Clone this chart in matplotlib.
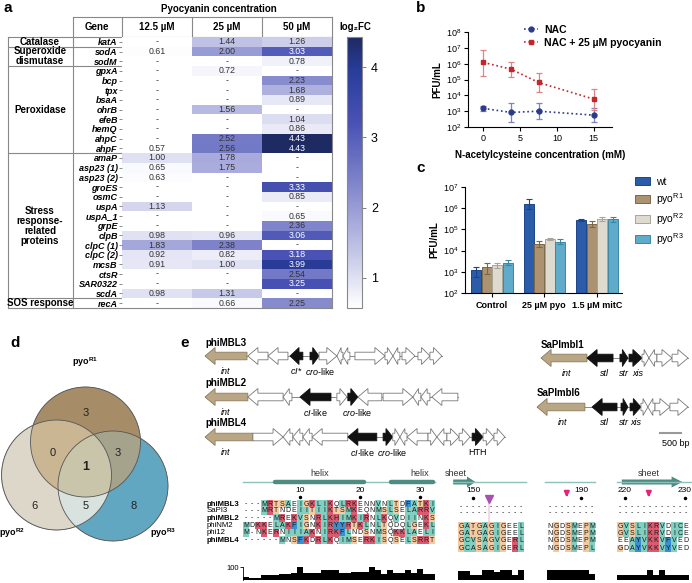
import numpy as np
import matplotlib
matplotlib.use('Agg')
import matplotlib.pyplot as plt
from matplotlib.colors import LinearSegmentedColormap, to_rgba
from matplotlib.patches import Polygon, Rectangle, Circle, Patch
from matplotlib.lines import Line2D

plt.rcParams['font.family'] = ['Liberation Sans', 'DejaVu Sans']
plt.rcParams['mathtext.fontset'] = 'custom'
plt.rcParams['mathtext.rm'] = 'Liberation Sans'
plt.rcParams['mathtext.it'] = 'Liberation Sans:italic'
plt.rcParams['mathtext.bf'] = 'Liberation Sans:bold'

nan = np.nan

#########################################################
# Data
#########################################################
# panel a
genes = ['katA', 'sodA', 'sodM', 'gpxA', 'bcp', 'tpx', 'bsaA', 'ohrB', 'efeB', 'hemQ', 'ahpC', 'ahpF',
         'amaP', 'asp23 (1)', 'asp23 (2)', 'groES', 'osmC', 'uspA', 'uspA_1', 'grpE', 'clpB', 'clpC (1)',
         'clpC (2)', 'mcsB', 'ctsR', 'SAR0322', 'scdA', 'recA']
conc_labels = ['12.5 µM', '25 µM', '50 µM']
fc_12 = [nan, 0.61, nan, nan, nan, nan, nan, nan, nan, nan, nan, 0.57,
         1.00, 0.65, 0.63, nan, nan, 1.13, nan, nan, 0.98, 1.83, 0.92, 0.91, nan, nan, 0.98, nan]
fc_25 = [1.44, 2.00, nan, 0.72, nan, nan, nan, 1.56, nan, nan, 2.52, 2.56,
         1.78, 1.75, nan, nan, nan, nan, nan, nan, 0.96, 2.38, 0.82, 1.00, nan, nan, 1.31, 0.66]
fc_50 = [1.26, 3.03, 0.78, nan, 2.23, 1.68, 0.89, nan, 1.04, 0.86, 4.43, 4.43,
         nan, nan, nan, 3.33, 0.85, nan, 0.65, 2.36, 3.06, nan, 3.18, 3.99, 2.54, 3.25, nan, 2.25]
categories = ['Catalase', 'Superoxide\ndismutase', 'Peroxidase', 'Stress\nresponse-\nrelated\nproteins', 'SOS response']
category_sizes = [1, 2, 9, 15, 1]

# panel b
nac_conc = [0, 3.75, 7.5, 15]
nac_pfu = [1.5e3, 8.3e2, 1.0e3, 5.6e2]
nac_lo = [1.1e3, 2.0e2, 3.0e2, 2.0e2]
nac_hi = [2.1e3, 3.4e3, 3.4e3, 1.7e3]
pyo_pfu = [1.2e6, 4.5e5, 6.5e4, 5.8e3]
pyo_lo = [1.6e5, 1.5e5, 1.7e4, 1.2e3]
pyo_hi = [7.7e6, 1.35e6, 2.4e5, 2.7e4]

# panel c
conditions = ['Control', '25 µM pyo', '1.5 µM mitC']
strain_labels = ['wt', r'pyo$^{\rm R1}$', r'pyo$^{\rm R2}$', r'pyo$^{\rm R3}$']
pfu_wt = [1.1e3, 1.6e6, 2.75e5]
pfu_r1 = [1.55e3, 2.0e4, 1.75e5]
pfu_r2 = [2.0e3, 3.6e4, 3.0e5]
pfu_r3 = [2.6e3, 2.6e4, 3.0e5]
lo_wt = [5.7e2, 9.0e5, 2.4e5]
lo_r1 = [8.0e2, 1.5e4, 1.3e5]
lo_r2 = [1.5e3, 3.2e4, 2.4e5]
lo_r3 = [2.1e3, 2.0e4, 2.3e5]
hi_wt = [1.75e3, 2.7e6, 3.2e5]
hi_r1 = [2.5e3, 2.8e4, 2.5e5]
hi_r2 = [2.7e3, 4.0e4, 3.9e5]
hi_r3 = [3.5e3, 3.4e4, 4.0e5]

# panel d
venn_regions = ['R1', 'R1R2', 'R1R3', 'all', 'R2', 'R2R3', 'R3']
venn_counts = [3, 0, 3, 1, 6, 5, 8]

# panel e, gene maps (bp, strand, kind)
phiMBL3_genes = [(0, 1000, -1, 'int'), (1020, 1500, -1, 'w'), (1500, 1975, -1, 'w'), (2025, 2330, -1, 'b'),
                 (2500, 2715, 1, 'b'), (2715, 3140, 1, 'w'), (3140, 3285, -1, 'w'), (3285, 3450, -1, 'w'),
                 (3570, 4285, 1, 'w'), (4285, 4475, 1, 'w'), (4475, 4640, -1, 'w'), (4690, 5000, 1, 'w'),
                 (5070, 5355, 1, 'w'), (5355, 5640, 1, 'w')]
phiMBL2_genes = [(0, 1020, -1, 'int'), (1020, 1860, -1, 'w'), (1860, 2070, -1, 'w'), (2260, 3000, -1, 'b'),
                 (3140, 3380, 1, 'w'), (3400, 3640, 1, 'b'), (3640, 4210, -1, 'w'), (4240, 4950, 1, 'w'),
                 (4950, 5140, -1, 'w'), (5140, 5355, -1, 'w'), (5400, 6020, -1, 'w')]
phiMBL4_genes = [(0, 1140, -1, 'int'), (1140, 1860, 1, 'w'), (1860, 2090, -1, 'w'), (2090, 2330, -1, 'w'),
                 (2330, 2550, -1, 'w'), (2550, 3400, -1, 'w'), (3400, 4090, -1, 'b'), (4240, 4470, 1, 'b'),
                 (4470, 4640, 1, 'w'), (4640, 4810, -1, 'w'), (4810, 5310, -1, 'w'), (5310, 5520, 1, 'w'),
                 (5520, 5760, -1, 'w'), (5760, 6050, 1, 'w'), (6050, 6310, 1, 'w'), (6360, 6620, 1, 'b'),
                 (6620, 6880, 1, 'w'), (6880, 7140, 1, 'w')]
SaPImbl1_genes = [(0, 1095, -1, 'int'), (1095, 1715, -1, 'b'), (1880, 2070, 1, 'b'), (2095, 2405, 1, 'b'),
                  (2405, 2570, 1, 'w'), (2570, 2760, -1, 'w'), (2760, 3120, 1, 'w'), (3120, 3500, 1, 'w')]
SaPImbl6_genes = [(0, 1140, -1, 'int'), (1310, 1905, -1, 'b'), (2000, 2165, 1, 'b'), (2215, 2475, 1, 'b'),
                  (2475, 2640, 1, 'w'), (2640, 2810, -1, 'w'), (2810, 3165, 1, 'w'), (3165, 3595, 1, 'w')]
phiMBL3_labels = [(500, 'int'), (2180, r'$\it{cI}$*'), (2750, r'$\it{cro}$-like')]
phiMBL2_labels = [(500, 'int'), (2630, r'$\it{cI}$-like'), (3620, r'$\it{cro}$-like')]
phiMBL4_labels = [(500, 'int'), (3740, r'$\it{cI}$-like'), (4450, r'$\it{cro}$-like'), (6490, 'HTH')]
SaPImbl1_labels = [(600, 'int'), (1500, 'stl'), (1975, 'str'), (2300, 'xis')]
SaPImbl6_labels = [(600, 'int'), (1610, 'stl'), (2080, 'str'), (2345, 'xis')]

# panel e, alignment
seq_names = ['phiMBL3', 'SaPI3', 'phiMBL2', 'phiNM2', 'phi12', 'phiMBL4']
name_bold = [True, False, True, False, False, True]
block1 = ['---MRTSAEIGKLIKQLRKENNVNLTDFATKI',
          '---MRTNDEIITIIKTSMKEQNMSLSELARRV',
          '-----MREKVSNRLKHIMKIRNLKQVDIINKS',
          'MDKKELAKFIGNKIRYYRTKLNLTQDQLGEKL',
          'M-NKERNIIIAKNIRKFLNDSNMSQKKLAELI',
          '------MNSFKDRLKQIMSERKISQSELSRRT']
block2 = ['-----------', '-----------', 'GATGAGIGEEL', 'GATGAGIGEEL', 'GCVSAGVGERL', 'GCASAGIGERL']
block3 = ['--------', '--------', 'NGDSMEPM', 'NGDSMEPM', 'NGDSMEPM', 'NGDSMEPL']
block4 = ['------------', '------------', 'GVSLIKRVDICE', 'GVSLIKRVDICE', 'EEAYVKKVFVED', 'GDAYVKKVYVED']
cons1 = [20, 15, 15, 40, 40, 40, 45, 45, 55, 100, 55, 55, 55, 80, 80, 75, 55, 55, 60, 60,
         60, 100, 75, 45, 75, 55, 55, 80, 55, 85, 45, 45]
cons2 = [70, 70, 38, 38, 80, 75, 62, 80, 80, 38, 80]
cons3 = [80, 80, 80, 80, 80, 80, 80, 50]
cons4 = [35, 35, 35, 35, 35, 80, 35, 80, 35, 35, 35, 35]

#########################################################
# Figure helpers
#########################################################
W, H = 692, 583
fig = plt.figure(figsize=(W / 100, H / 100), dpi=100)


def px_axes(x0, y0, x1, y1):
    return fig.add_axes([x0 / W, 1 - y1 / H, (x1 - x0) / W, (y1 - y0) / H])


ov = fig.add_axes([0, 0, 1, 1])
ov.set_xlim(0, W)
ov.set_ylim(H, 0)
ov.axis('off')

for lab, (x, y) in zip('abcde', [(4, 8), (416, 8), (416, 168), (10, 343), (180, 343)]):
    ov.text(x, y, lab, fontsize=11, fontweight='bold', va='center', ha='left')

#########################################################
# a: heatmap table
#########################################################
cmap = LinearSegmentedColormap.from_list('fc', [(0, '#ffffff'), (0.2, '#c5c7e8'), (0.45, '#8287cc'),
                                               (0.68, '#4a53b5'), (0.88, '#283c9a'), (1, '#1e2a62')])
fc = np.array([fc_12, fc_25, fc_50]).T
n = len(genes)
top, bot = 37, 308
rowh = (bot - top) / n

ax_a = px_axes(122, top, 332, bot)
mesh = ax_a.pcolormesh(np.ma.masked_invalid(fc), cmap=cmap, vmin=0.57, vmax=4.43)
ax_a.set_xlim(0, 3)
ax_a.set_ylim(n, 0)
for i in range(n):
    for j in range(3):
        v = fc[i, j]
        txt = '-' if np.isnan(v) else '%.2f' % v
        col = 'white' if (not np.isnan(v) and v >= 3) else '#333333'
        ax_a.text(j + 0.5, i + 0.5, txt, ha='center', va='center', fontsize=6.3, color=col)
ax_a.set_xticks([])
ax_a.set_yticks(np.arange(n) + 0.5)
ax_a.set_yticklabels(genes, fontsize=6.5, fontweight='bold', style='italic')
ax_a.tick_params(axis='y', length=2, width=0.6, color='#777777', pad=1)
for s in ['left', 'top']:
    ax_a.spines[s].set_visible(False)
for s in ['right', 'bottom']:
    ax_a.spines[s].set_color('#888888')
    ax_a.spines[s].set_linewidth(0.8)

lc = '#888888'
ov.plot([73, 332], [17, 17], color=lc, lw=0.8)
ov.plot([8, 332], [top, top], color=lc, lw=0.8)
for x in [122, 192, 262]:
    ov.plot([x, x], [17, top], color=lc, lw=0.8)
ov.plot([73, 73], [17, bot], color=lc, lw=0.8)
ov.plot([8, 8], [top, bot], color=lc, lw=0.8)
ov.plot([332, 332], [17, top], color=lc, lw=0.8)
ov.plot([8, 122], [bot, bot], color=lc, lw=0.8)
start = 0
for cat, size in zip(categories, category_sizes):
    yc = top + (start + size / 2) * rowh
    ov.text(40, yc, cat, ha='center', va='center', fontsize=7, fontweight='bold', linespacing=1.0)
    start += size
    if start < n:
        ov.plot([8, 122], [top + start * rowh] * 2, color=lc, lw=0.8)

ov.text(97, 27, 'Gene', ha='center', va='center', fontsize=7, fontweight='bold')
for k, lab in enumerate(conc_labels):
    ov.text(157 + 70 * k, 27, lab, ha='center', va='center', fontsize=7, fontweight='bold')
ov.text(219, 9, 'Pyocyanin concentration', ha='center', va='center', fontsize=7, fontweight='bold')

cax = px_axes(347, top, 362, bot)
cb = fig.colorbar(mesh, cax=cax)
cb.set_ticks([1, 2, 3, 4])
cb.ax.tick_params(labelsize=9, length=3, width=0.6, color='#666666')
cb.outline.set_edgecolor('#888888')
cb.outline.set_linewidth(0.8)
ov.text(355, 27, 'log₂FC', ha='center', va='center', fontsize=7, fontweight='bold')

#########################################################
# b: NAC line plot
#########################################################
ax_b = px_axes(468, 32, 612, 127)
ax_b.set_yscale('log')
nac_y = np.array(nac_pfu)
pyo_y = np.array(pyo_pfu)
ax_b.errorbar(nac_conc, nac_y, yerr=[nac_y - np.array(nac_lo), np.array(nac_hi) - nac_y],
              fmt='o', ls=':', lw=1.2, ms=3.5, color='#2b3b8c', ecolor='#7a86bd',
              elinewidth=0.9, capsize=2.5, capthick=0.9)
ax_b.errorbar(nac_conc, pyo_y, yerr=[pyo_y - np.array(pyo_lo), np.array(pyo_hi) - pyo_y],
              fmt='s', ls=':', lw=1.2, ms=3.5, color='#c1272d', ecolor='#e08585',
              elinewidth=0.9, capsize=2.5, capthick=0.9)
ax_b.set_ylim(1e2, 1e8)
ax_b.set_xlim(-2.1, 17.5)
ax_b.set_xticks([0, 5, 10, 15])
ax_b.set_yticks([10.0 ** k for k in range(2, 9)])
ax_b.minorticks_off()
ax_b.tick_params(labelsize=6.5, length=3, width=0.8, pad=2)
for s in ['top', 'right']:
    ax_b.spines[s].set_visible(False)
ax_b.set_ylabel('PFU/mL', fontsize=7, fontweight='bold', labelpad=2)
ax_b.set_xlabel('N-acetylcysteine concentration (mM)', fontsize=7, fontweight='bold', labelpad=5)
h_b = [Line2D([], [], color='#2b3b8c', ls=':', marker='o', ms=3.5, lw=1.2),
       Line2D([], [], color='#c1272d', ls=':', marker='s', ms=3.5, lw=1.2)]
ax_b.legend(h_b, ['NAC', 'NAC + 25 µM pyocyanin'], loc='upper left', bbox_to_anchor=(524 / W, 1 - 25 / H),
            bbox_transform=fig.transFigure, frameon=False, prop={'weight': 'bold', 'size': 7.5},
            handlelength=1.3, handletextpad=0.6, labelspacing=0.25, borderpad=0, borderaxespad=0)

#########################################################
# c: bar chart
#########################################################
ax_c = px_axes(465, 187, 622, 293)
ax_c.set_yscale('log')
xs = np.arange(len(conditions))
bar_sets = [(pfu_wt, lo_wt, hi_wt, '#2a5caa', '#1b4587'),
            (pfu_r1, lo_r1, hi_r1, '#ab9270', '#7d6748'),
            (pfu_r2, lo_r2, hi_r2, '#dedad0', '#a9a497'),
            (pfu_r3, lo_r3, hi_r3, '#5fabc9', '#3a86a3')]
for k, (vals, lo, hi, fcol, ecol) in enumerate(bar_sets):
    off = (k - 1.5) * 0.2
    vals = np.array(vals)
    ax_c.bar(xs + off, vals, width=0.19, bottom=1e2, color=fcol, edgecolor=ecol, linewidth=0.7,
             label=strain_labels[k])
    ax_c.errorbar(xs + off, vals, yerr=[vals - np.array(lo), np.array(hi) - vals], fmt='none',
                  ecolor=ecol, elinewidth=0.8, capsize=2, capthick=0.8)
ax_c.set_ylim(1e2, 1e7)
ax_c.set_xlim(-0.51, 2.48)
ax_c.set_yticks([10.0 ** k for k in range(2, 8)])
ax_c.minorticks_off()
ax_c.set_xticks(xs)
ax_c.set_xticklabels(conditions, fontsize=6.5, fontweight='bold')
ax_c.tick_params(axis='y', labelsize=6.5, length=3, width=0.8, pad=2)
ax_c.tick_params(axis='x', length=3, width=0.8, pad=3)
for s in ['top', 'right']:
    ax_c.spines[s].set_visible(False)
ax_c.set_ylabel('PFU/mL', fontsize=7, fontweight='bold', labelpad=2)
h_c = [Patch(facecolor=b[3], edgecolor=b[4], linewidth=0.7) for b in bar_sets]
ax_c.legend(h_c, strain_labels, loc='upper left', bbox_to_anchor=(635 / W, 1 - 177 / H),
            bbox_transform=fig.transFigure, frameon=False, fontsize=7.5, handlelength=1.4,
            handleheight=0.8, handletextpad=0.6, labelspacing=0.4, borderpad=0, borderaxespad=0)

#########################################################
# d: Venn diagram
#########################################################
ax_d = px_axes(0, 350, 180, 548)
ax_d.set_xlim(0, 180)
ax_d.set_ylim(548, 350)
ax_d.axis('off')
centers = [(85.5, 442), (56.5, 475), (113, 486)]
rad = 55
gx, gy = np.meshgrid(np.linspace(0, 180, 720), np.linspace(350, 548, 792))
inside = [((gx - cx) ** 2 + (gy - cy) ** 2) <= rad ** 2 for cx, cy in centers]
code = inside[0] * 1 + inside[1] * 2 + inside[2] * 4
code_of = {'R1': 1, 'R1R2': 3, 'R1R3': 5, 'all': 7, 'R2': 2, 'R2R3': 6, 'R3': 4}
region_col = {'R1': '#a88c69', 'R1R2': '#cab692', 'R1R3': '#a5a38b', 'all': '#c9c6aa',
              'R2': '#ddd8c9', 'R2R3': '#d9e2df', 'R3': '#63a7c1'}
img = np.zeros(code.shape + (4,))
for reg in venn_regions:
    img[code == code_of[reg]] = to_rgba(region_col[reg])
ax_d.imshow(img, extent=(0, 180, 548, 350), origin='upper', aspect='auto', interpolation='bilinear')
for cx, cy in centers:
    ax_d.add_patch(Circle((cx, cy), rad, fill=False, edgecolor='#555555', lw=0.6))
text_pos = {'R1': (86, 413), 'R1R2': (53, 453), 'R1R3': (118, 453), 'all': (86, 467),
            'R2': (35, 506), 'R2R3': (86, 506), 'R3': (134, 506)}
for reg, cnt in zip(venn_regions, venn_counts):
    x, y = text_pos[reg]
    ax_d.text(x, y, str(cnt), ha='center', va='center', fontsize=9 if reg == 'all' else 8,
              fontweight='bold' if reg == 'all' else 'normal', color='#222222')
ov.text(85, 362, r'$\mathbf{pyo^{R1}}$', ha='center', va='center', fontsize=6.5)
ov.text(12, 533, r'$\mathbf{pyo^{R2}}$', ha='center', va='center', fontsize=6.5)
ov.text(163, 533, r'$\mathbf{pyo^{R3}}$', ha='center', va='center', fontsize=6.5)

#########################################################
# e: gene maps
#########################################################
BP_PER_PX = 500 / 21.0
kind_style = {'int': ('#b9a685', '#8c7a5c'), 'w': ('white', '#777777'), 'b': ('#111111', '#111111')}


def gene_track(name, gene_list, labels, x0, x1, origin, yc):
    ax = px_axes(x0, yc - 10, x1, yc + 10)
    ax.set_xlim((x0 - origin) * BP_PER_PX, (x1 - origin) * BP_PER_PX)
    ax.set_ylim(-1, 1)
    ax.axis('off')
    ax.plot([gene_list[0][0], gene_list[-1][1]], [0, 0], color='#888888', lw=0.7, zorder=1)
    for s, e, strand, kind in gene_list:
        ln = e - s
        hl = min(240, 0.7 * ln)
        bh, hh = 0.38, 0.85
        if strand > 0:
            pts = [(s, bh), (e - hl, bh), (e - hl, hh), (e, 0), (e - hl, -hh), (e - hl, -bh), (s, -bh)]
        else:
            pts = [(e, bh), (s + hl, bh), (s + hl, hh), (s, 0), (s + hl, -hh), (s + hl, -bh), (e, -bh)]
        fcol, ecol = kind_style[kind]
        ax.add_patch(Polygon(pts, closed=True, facecolor=fcol, edgecolor=ecol, lw=0.6, zorder=2))
    for xpos, txt in labels:
        ax.text(xpos, -1.55, txt, ha='center', va='center', fontsize=6.5,
                style='italic' if txt in ['int', 'stl', 'str', 'xis'] else 'normal', clip_on=False)
    ax.text(0, 1.35, name, ha='left', va='center', fontsize=7, fontweight='bold', clip_on=False)
    return ax


gene_track('phiMBL3', phiMBL3_genes, phiMBL3_labels, 200, 530, 205, 356)
gene_track('phiMBL2', phiMBL2_genes, phiMBL2_labels, 200, 530, 205, 397)
gene_track('phiMBL4', phiMBL4_genes, phiMBL4_labels, 200, 530, 205, 437)
gene_track('SaPImbl1', SaPImbl1_genes, SaPImbl1_labels, 530, 692, 541, 358)
ax_s6 = gene_track('SaPImbl6', SaPImbl6_genes, SaPImbl6_labels, 530, 692, 537, 407)
ax_s6.plot([2930, 3430], [-2.6, -2.6], color='#999999', lw=1.5, clip_on=False)
ax_s6.text(3310, -3.7, '500 bp', ha='center', va='center', fontsize=6.5, clip_on=False)

#########################################################
# e: alignment
#########################################################
def res_color(ch):
    if ch in 'KRH':
        return '#da5b70'
    if ch in 'AILMVC':
        return '#80cfc0'
    if ch in 'FYW':
        return '#3a8fd0'
    if ch in 'GPST':
        return '#f6caa0'
    return None


struct_dark = '#4d8c82'
struct_light = '#8cc0b8'


def align_block(seqs, rows_y, x0, ytop=468, ybot=556):
    ncol = len(seqs[-1])
    ax = px_axes(x0, ytop, x0 + 6 * ncol, ybot)
    ax.set_xlim(-0.5, ncol - 0.5)
    ax.set_ylim(ybot, ytop)
    ax.axis('off')
    for seq, yr in zip(seqs, rows_y):
        for c, ch in enumerate(seq):
            col = res_color(ch)
            if col:
                ax.add_patch(Rectangle((c - 0.5, yr - 3.6), 1, 7.2, facecolor=col, edgecolor='none'))
            ax.text(c, yr, ch, ha='center', va='center', fontsize=5, color='#1a1a1a')
    return ax


def cons_block(vals, x0, with_axis=False):
    ax = px_axes(x0, 567, x0 + 6 * len(vals), 580)
    ax.bar(np.arange(len(vals)), vals, width=1.0, color='black')
    ax.set_xlim(-0.5, len(vals) - 0.5)
    ax.set_ylim(0, 100)
    for s in ['top', 'right', 'bottom']:
        ax.spines[s].set_visible(False)
    ax.set_xticks([])
    if with_axis:
        ax.set_yticks([100])
        ax.tick_params(axis='y', labelsize=5.5, length=2, width=0.6, pad=1)
        ax.spines['left'].set_linewidth(0.6)
    else:
        ax.set_yticks([])
        ax.spines['left'].set_visible(False)
    return ax


rows1 = [504, 511, 518, 525.5, 533, 540]
rows2 = [507, 513, 526, 533.5, 541, 548.5]

a1 = align_block(block1, rows1, 243)
a1.plot([-0.5, 31.5], [482, 482], color=struct_light, lw=1.0, clip_on=False)
a1.plot([4.8, 19.6], [482, 482], color=struct_dark, lw=3.2, solid_capstyle='round', clip_on=False)
a1.plot([24.2, 31.2], [482, 482], color=struct_dark, lw=3.2, solid_capstyle='round', clip_on=False)
a1.text(12.3, 473, 'helix', ha='center', va='center', fontsize=6.5, color='#333333')
a1.text(29, 473, 'helix', ha='center', va='center', fontsize=6.5, color='#333333')
for c, lab in [(9, '10'), (19, '20'), (29, '30')]:
    a1.text(c, 490, lab, ha='center', va='center', fontsize=6)
    a1.plot([c], [497], 'o', color='black', ms=1.5)
for k, (nm, b) in enumerate(zip(seq_names, name_bold)):
    a1.text(-6.5, rows1[k], nm, ha='left', va='center', fontsize=5.6,
            fontweight='bold' if b else 'normal', clip_on=False)

a2 = align_block(block2, rows2, 458)
a2.plot([-1.3, 10.8], [482, 482], color=struct_light, lw=1.0, clip_on=False)
a2.add_patch(Polygon([(-1.3, 479.5), (1.0, 479.5), (1.0, 476.5), (2.4, 482), (1.0, 487.5), (1.0, 484.5),
                      (-1.3, 484.5)], closed=True, facecolor=struct_dark, edgecolor='none', clip_on=False))
a2.text(-0.8, 473, 'sheet', ha='center', va='center', fontsize=6.5, color='#333333')
a2.text(2, 490, '150', ha='center', va='center', fontsize=6)
a2.plot([2], [498], 'o', color='black', ms=1.5)
a2.add_patch(Rectangle((4.45, 500), 0.45, 31, facecolor='#f3c6e0', edgecolor='none', alpha=0.7, zorder=0))
a2.plot([4.7], [498.5], marker='v', color='#a94fb0', ms=5.5)

a3 = align_block(block3, rows2, 547)
a3.plot([-0.9, 7.5], [482, 482], color=struct_light, lw=1.0, clip_on=False)
a3.text(5.2, 490, '190', ha='center', va='center', fontsize=6)
a3.plot([5.2], [498], 'o', color='black', ms=1.5)
a3.annotate('', xy=(2.8, 500), xytext=(2.8, 491),
            arrowprops=dict(arrowstyle='-|>', color='#e8217a', lw=1.6, mutation_scale=7))

a4 = align_block(block4, rows2, 617)
a4.plot([-0.5, 11.8], [482, 482], color=struct_light, lw=1.0, clip_on=False)
a4.add_patch(Polygon([(0.3, 479.5), (8.6, 479.5), (8.6, 476.5), (10.4, 482), (8.6, 487.5), (8.6, 484.5),
                      (0.3, 484.5)], closed=True, facecolor=struct_dark, edgecolor='none', clip_on=False))
a4.text(4.8, 473, 'sheet', ha='center', va='center', fontsize=6.5, color='#333333')
for c, lab in [(0.8, '220'), (10.8, '230')]:
    a4.text(c, 490, lab, ha='center', va='center', fontsize=6, clip_on=False)
    a4.plot([c], [498], 'o', color='black', ms=1.5, clip_on=False)
a4.annotate('', xy=(4.8, 500), xytext=(4.8, 491),
            arrowprops=dict(arrowstyle='-|>', color='#e8217a', lw=1.6, mutation_scale=7))

cons_block(cons1, 243, with_axis=True)
cons_block(cons2, 458)
cons_block(cons3, 547)
cons_block(cons4, 617)

plt.savefig('out.png', dpi=100)
